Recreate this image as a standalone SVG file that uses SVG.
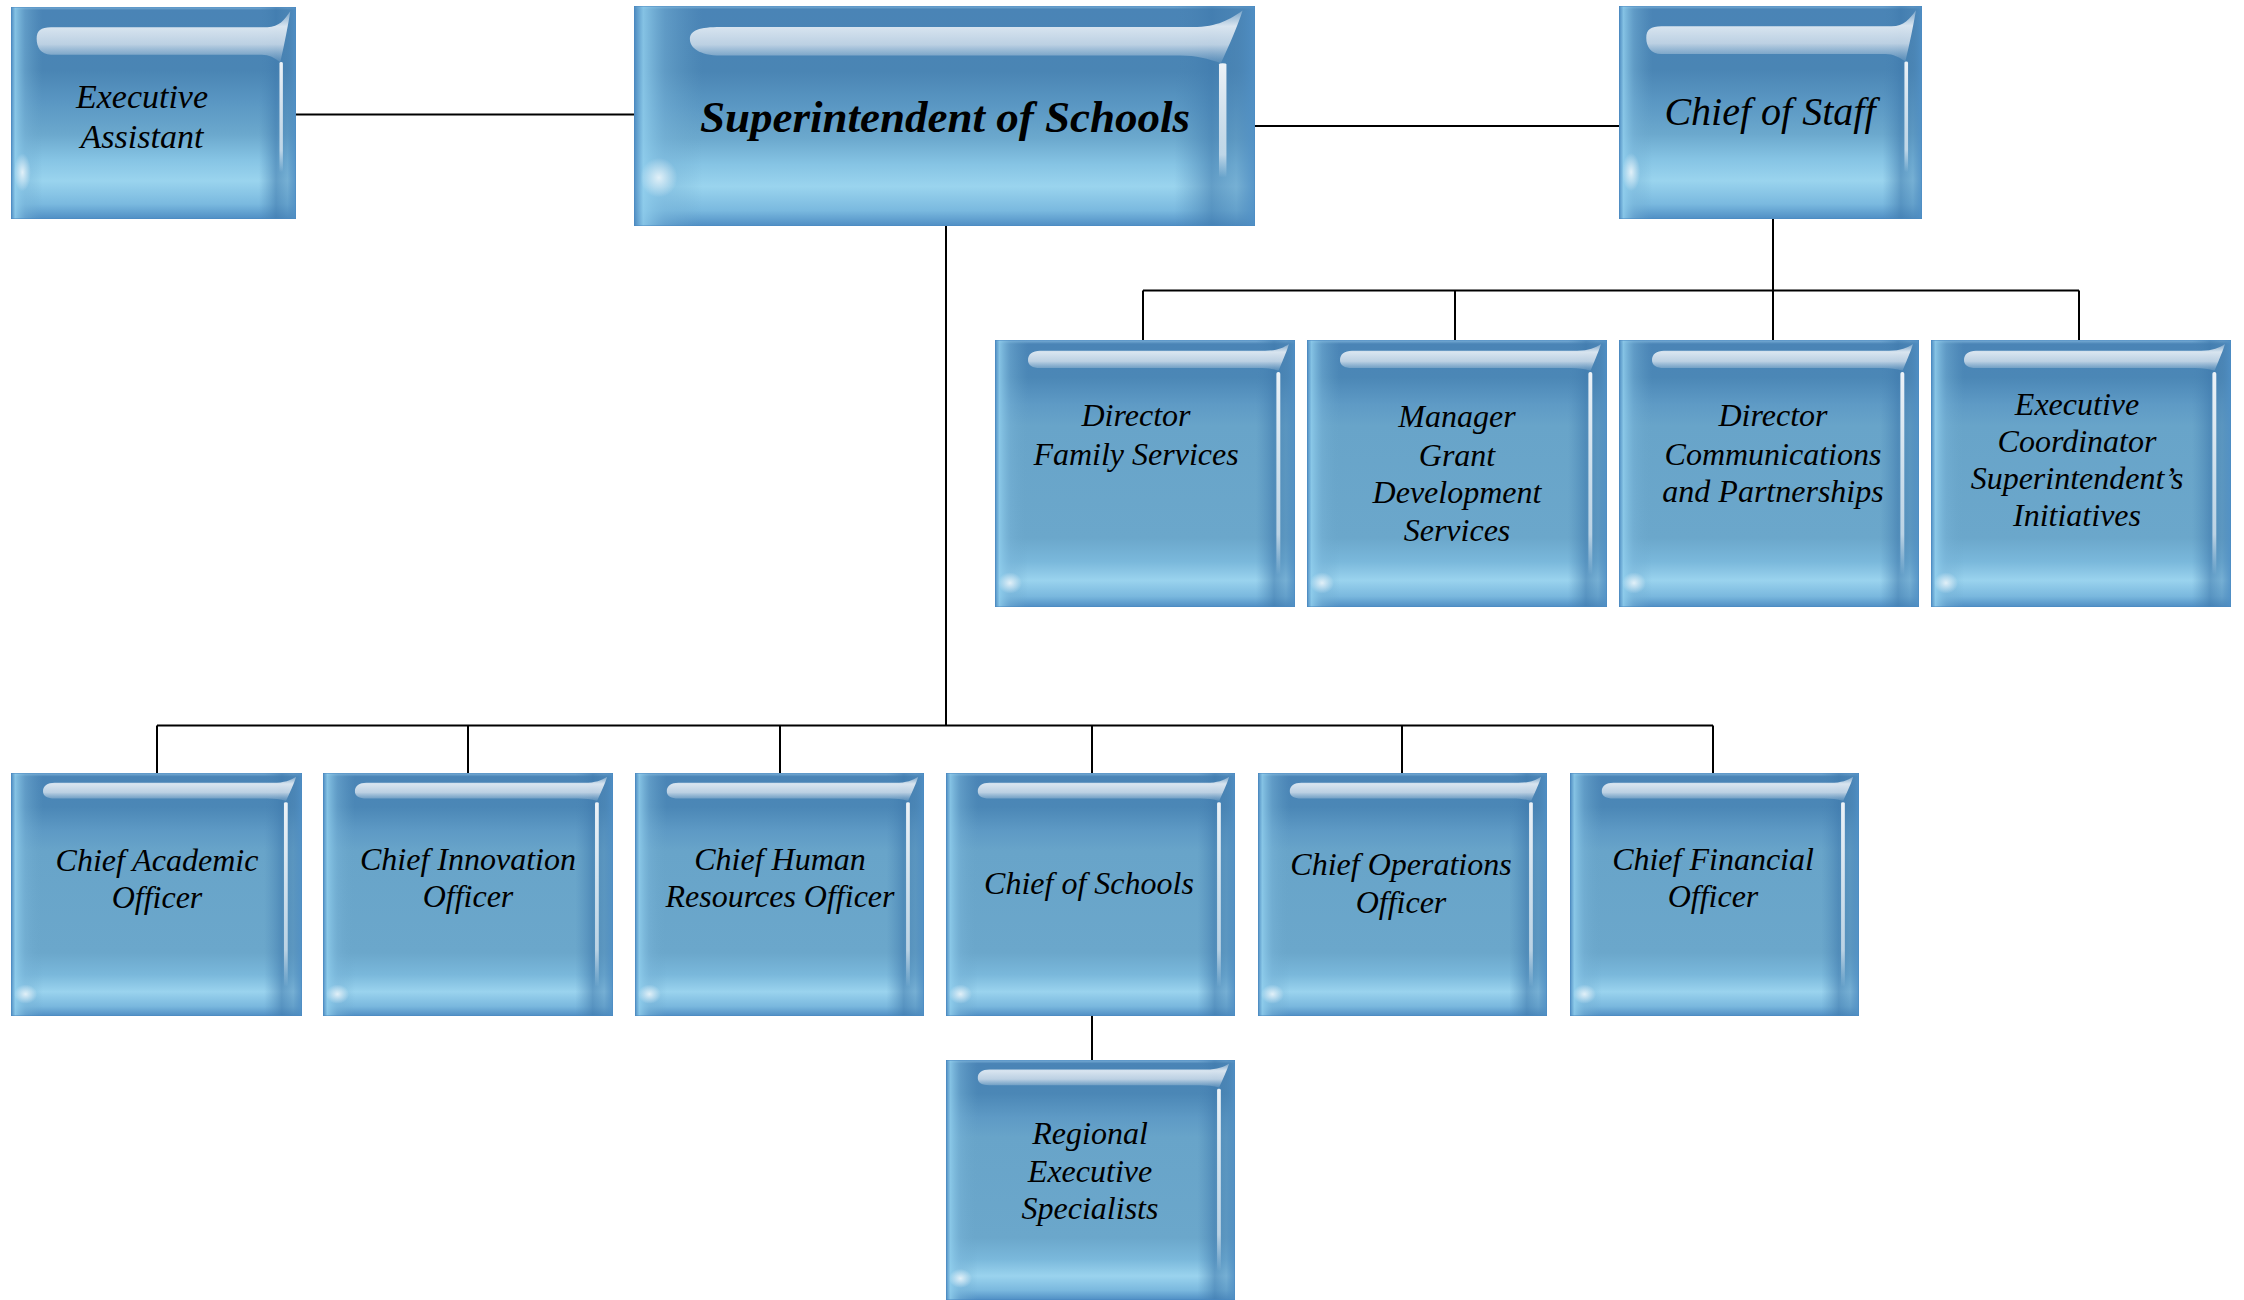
<svg xmlns="http://www.w3.org/2000/svg" xmlns:xlink="http://www.w3.org/1999/xlink" width="2244" height="1300" viewBox="0 0 2244 1300">
<defs>
<linearGradient id="gV" x1="0" y1="0" x2="0" y2="1">
<stop offset="0" stop-color="#7fb3da"/>
<stop offset="0.015" stop-color="#4a84b6"/>
<stop offset="0.14" stop-color="#4b87b6"/>
<stop offset="0.24" stop-color="#5e9ac5"/>
<stop offset="0.32" stop-color="#68a4c9"/>
<stop offset="0.74" stop-color="#6ba7cb"/>
<stop offset="0.83" stop-color="#7ab8db"/>
<stop offset="0.9" stop-color="#9ad3ee"/>
<stop offset="0.96" stop-color="#7ab8de"/>
<stop offset="1" stop-color="#4f8ec4"/>
</linearGradient>
<linearGradient id="gVT" x1="0" y1="0" x2="0" y2="1">
<stop offset="0" stop-color="#7fb3da"/>
<stop offset="0.015" stop-color="#4a84b6"/>
<stop offset="0.3" stop-color="#4a85b4"/>
<stop offset="0.45" stop-color="#5a97c3"/>
<stop offset="0.6" stop-color="#6ba8cd"/>
<stop offset="0.72" stop-color="#86c4e4"/>
<stop offset="0.82" stop-color="#9ad4ee"/>
<stop offset="0.93" stop-color="#7ab9df"/>
<stop offset="1" stop-color="#4f8ec4"/>
</linearGradient>
<linearGradient id="gH" x1="0" y1="0" x2="1" y2="0">
<stop offset="0" stop-color="#4a88bf" stop-opacity="0.9"/>
<stop offset="0.015" stop-color="#8fcdec" stop-opacity="0.85"/>
<stop offset="0.05" stop-color="#7ab6da" stop-opacity="0.45"/>
<stop offset="0.11" stop-color="#6aa6ca" stop-opacity="0"/>
<stop offset="0.87" stop-color="#4a85b5" stop-opacity="0"/>
<stop offset="0.93" stop-color="#3f7aad" stop-opacity="0.6"/>
<stop offset="0.97" stop-color="#4a84b4" stop-opacity="0.45"/>
<stop offset="1" stop-color="#5090c6" stop-opacity="0.9"/>
</linearGradient>
<linearGradient id="gHL" x1="0" y1="0" x2="0" y2="1">
<stop offset="0" stop-color="#ffffff" stop-opacity="0.25"/>
<stop offset="0.3" stop-color="#f2f6fa" stop-opacity="0.85"/>
<stop offset="0.65" stop-color="#d8e3ee" stop-opacity="0.8"/>
<stop offset="1" stop-color="#b9cfe2" stop-opacity="0.15"/>
</linearGradient>
<linearGradient id="gRH" x1="0" y1="0" x2="0" y2="1">
<stop offset="0" stop-color="#ffffff" stop-opacity="0.9"/>
<stop offset="0.8" stop-color="#ffffff" stop-opacity="0.6"/>
<stop offset="1" stop-color="#ffffff" stop-opacity="0"/>
</linearGradient>
<radialGradient id="gGl" cx="0.5" cy="0.5" r="0.5">
<stop offset="0" stop-color="#ffffff" stop-opacity="0.75"/>
<stop offset="1" stop-color="#ffffff" stop-opacity="0"/>
</radialGradient>
<symbol id="bevel" viewBox="0 0 100 100" preserveAspectRatio="none">
<rect width="100" height="100" fill="url(#gV)"/>
<rect width="100" height="100" fill="url(#gH)"/>
<path d="M11,7.5 C11,5.3 12.5,4 15,4 L90,4 C94,4 96,3 98,1.5 C97.2,4.5 95.8,8 94.5,11.5 C92.5,10.8 90.5,10.5 88,10.5 L15,10.5 C12.5,10.5 11,9.5 11,7.5Z" fill="url(#gHL)"/>
<rect x="93.8" y="12" width="1.3" height="76" rx="0.6" fill="url(#gRH)"/>
<ellipse cx="5" cy="91" rx="4" ry="4" fill="url(#gGl)"/>
<rect x="0" y="0" width="100" height="100" fill="none" stroke="#4a88c0" stroke-width="1" vector-effect="non-scaling-stroke"/>
</symbol>
<symbol id="bevelT" viewBox="0 0 100 100" preserveAspectRatio="none">
<rect width="100" height="100" fill="url(#gVT)"/>
<rect width="100" height="100" fill="url(#gH)"/>
<path d="M9,15 C9,11 10.5,9.5 14,9.5 L90,9.5 C94,9.5 96,6 98,2 C97.2,9 96,17 94.5,26 C92.5,24 90.5,22.5 88,22.5 L14,22.5 C10.5,22.5 9,19 9,15Z" fill="url(#gHL)"/>
<rect x="94.2" y="26" width="1.2" height="52" rx="0.6" fill="url(#gRH)"/>
<ellipse cx="4" cy="78" rx="3" ry="9" fill="url(#gGl)"/>
<rect x="0" y="0" width="100" height="100" fill="none" stroke="#4a88c0" stroke-width="1" vector-effect="non-scaling-stroke"/>
</symbol>
<style>
.t{font-family:"Liberation Serif","Times New Roman",serif;font-style:italic;font-size:32px;fill:#000;text-anchor:middle}
.big{font-size:45px;font-weight:bold}
.cos{font-size:40px}
.ea{font-size:34px}
.ln{stroke:#000;stroke-width:2;fill:none}
</style>
</defs>
<rect width="2244" height="1300" fill="#ffffff"/>
<g id="connectors">
<path class="ln" d="M296,114.5 H634"/>
<path class="ln" d="M1255,126 H1619"/>
<path class="ln" d="M946,226 V725.5"/>
<path class="ln" d="M1773,219 V340"/>
<path class="ln" d="M1143,290.5 H2079"/>
<path class="ln" d="M1143,290.5 V340 M1455,290.5 V340 M2079,290.5 V340"/>
<path class="ln" d="M157,725.5 H1713"/>
<path class="ln" d="M157,725.5 V773 M468,725.5 V773 M780,725.5 V773 M1092,725.5 V773 M1402,725.5 V773 M1713,725.5 V773"/>
<path class="ln" d="M1092,1016 V1060"/>
</g>
<g id="executive-assistant">
<use xlink:href="#bevelT" x="11" y="7" width="285" height="212"/>
<text class="t ea" x="142" y="108">Executive</text>
<text class="t ea" x="142" y="148">Assistant</text>
</g>
<g id="superintendent">
<use xlink:href="#bevelT" x="634" y="6" width="621" height="220"/>
<text class="t big" x="945" y="132">Superintendent of Schools</text>
</g>
<g id="chief-of-staff">
<use xlink:href="#bevelT" x="1619" y="6" width="303" height="213"/>
<text class="t cos" x="1770" y="125">Chief of Staff</text>
</g>
<g id="director-family-services">
<use xlink:href="#bevel" x="995" y="340" width="300" height="267"/>
<text class="t" x="1136" y="426">Director</text>
<text class="t" x="1136" y="465">Family Services</text>
</g>
<g id="manager-grant">
<use xlink:href="#bevel" x="1307" y="340" width="300" height="267"/>
<text class="t" x="1457" y="427">Manager</text>
<text class="t" x="1457" y="466">Grant</text>
<text class="t" x="1457" y="503">Development</text>
<text class="t" x="1457" y="541">Services</text>
</g>
<g id="director-communications">
<use xlink:href="#bevel" x="1619" y="340" width="300" height="267"/>
<text class="t" x="1773" y="426">Director</text>
<text class="t" x="1773" y="465">Communications</text>
<text class="t" x="1773" y="502">and Partnerships</text>
</g>
<g id="executive-coordinator">
<use xlink:href="#bevel" x="1931" y="340" width="300" height="267"/>
<text class="t" x="2077" y="415">Executive</text>
<text class="t" x="2077" y="452">Coordinator</text>
<text class="t" x="2077" y="489">Superintendent’s</text>
<text class="t" x="2077" y="526">Initiatives</text>
</g>
<g id="chief-academic-officer">
<use xlink:href="#bevel" x="11" y="773" width="291" height="243"/>
<text class="t" x="157" y="871">Chief Academic</text>
<text class="t" x="157" y="908">Officer</text>
</g>
<g id="chief-innovation-officer">
<use xlink:href="#bevel" x="323" y="773" width="290" height="243"/>
<text class="t" x="468" y="870">Chief Innovation</text>
<text class="t" x="468" y="907">Officer</text>
</g>
<g id="chief-hr-officer">
<use xlink:href="#bevel" x="635" y="773" width="289" height="243"/>
<text class="t" x="780" y="870">Chief Human</text>
<text class="t" x="780" y="907">Resources Officer</text>
</g>
<g id="chief-of-schools">
<use xlink:href="#bevel" x="946" y="773" width="289" height="243"/>
<text class="t" x="1089" y="894">Chief of Schools</text>
</g>
<g id="chief-operations-officer">
<use xlink:href="#bevel" x="1258" y="773" width="289" height="243"/>
<text class="t" x="1401" y="875">Chief Operations</text>
<text class="t" x="1401" y="913">Officer</text>
</g>
<g id="chief-financial-officer">
<use xlink:href="#bevel" x="1570" y="773" width="289" height="243"/>
<text class="t" x="1713" y="870">Chief Financial</text>
<text class="t" x="1713" y="907">Officer</text>
</g>
<g id="regional-executive-specialists">
<use xlink:href="#bevel" x="946" y="1060" width="289" height="240"/>
<text class="t" x="1090" y="1144">Regional</text>
<text class="t" x="1090" y="1182">Executive</text>
<text class="t" x="1090" y="1219">Specialists</text>
</g>
</svg>
